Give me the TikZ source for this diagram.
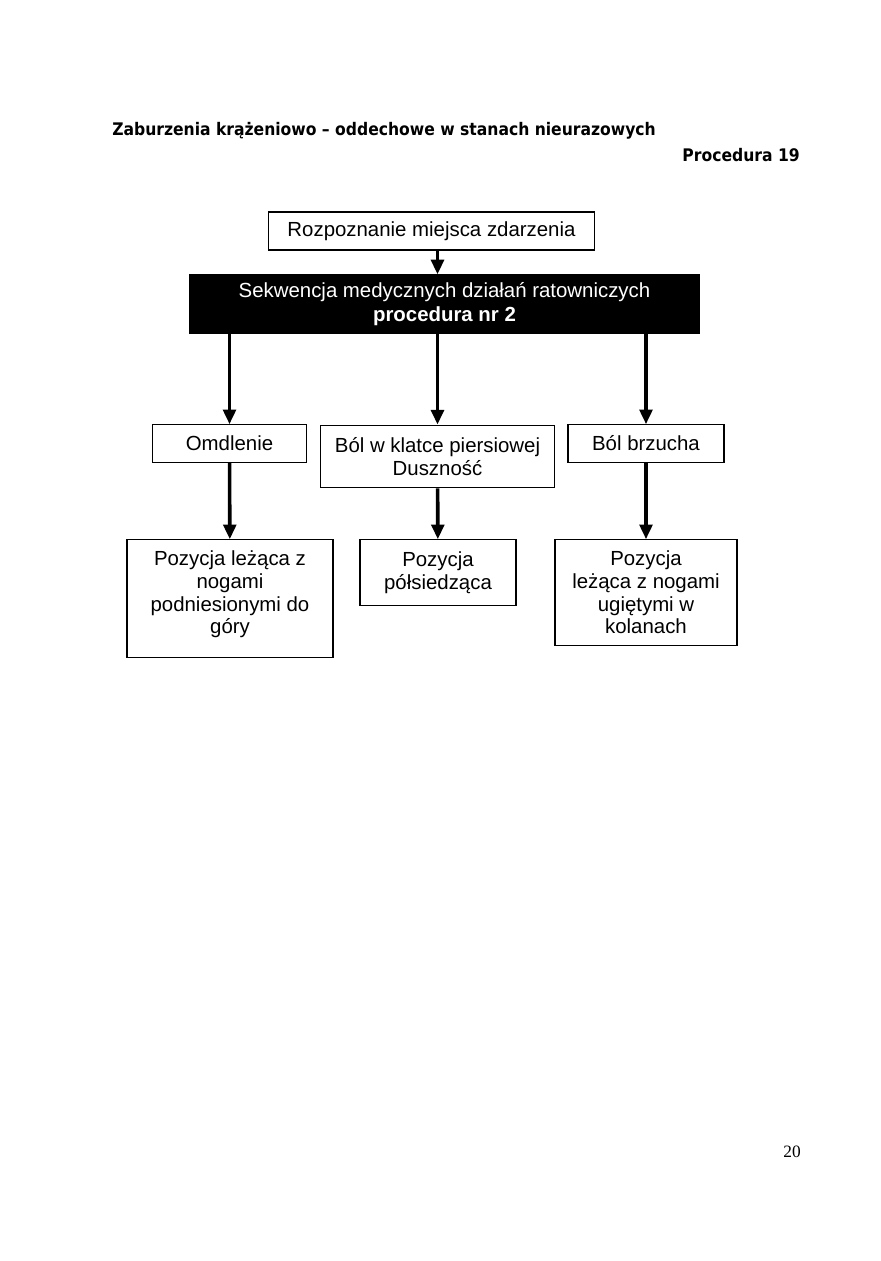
\documentclass[tikz,border=0pt]{standalone}
\usepackage{fontspec}
\setmainfont{Liberation Sans}
\newfontfamily\headfont{DejaVu Sans Condensed}
\newfontfamily\pagefont{Liberation Serif}
\usetikzlibrary{arrows.meta,positioning}

\begin{document}
\begin{tikzpicture}[x=0.75pt,y=-0.75pt,
  box/.style={draw,line width=0.9pt,fill=white,inner sep=0pt,align=center,font=\fontsize{15.3}{17}\selectfont},
  blackbox/.style={box,fill=black,text=white},
  heading/.style={inner sep=0pt,font=\headfont\bfseries\fontsize{13}{15}\selectfont},
  arrow/.style={-{Triangle[length=11pt,width=9.5pt]},line width=2.7pt}]
  \useasboundingbox (0,0) rectangle (881,1261);
  % naglowek strony
  \node[heading,anchor=west] (title) at (112,131) {Zaburzenia krążeniowo – oddechowe w stanach nieurazowych};
  \node[heading,anchor=east] (procnr) at (800,155) {Procedura 19};
  % schemat
  \node[box,minimum width=245pt,minimum height=28.5pt] (rozp) at (431.5,231) {Rozpoznanie miejsca zdarzenia};
  \node[blackbox,minimum width=382pt,minimum height=43.5pt] (sekw) at (444.5,304) {Sekwencja medycznych działań ratowniczych\\[0.5pt]\textbf{procedura nr 2}};
  \node[box,minimum width=116pt,minimum height=28pt] (omdl) at (229.5,443.5) {Omdlenie};
  \node[box,minimum width=176pt,minimum height=47pt] (klatka) at (437.5,456.5) {Ból w klatce piersiowej\\Duszność};
  \node[box,minimum width=117pt,minimum height=28pt] (brzuch) at (646,443.5) {Ból brzucha};
  \node[box,minimum width=154.5pt,minimum height=88pt] (lez) at (230,598.5) {Pozycja leżąca z\\nogami\\podniesionymi do\\góry\\[-8pt]\mbox{}};
  \node[box,minimum width=117pt,minimum height=49pt] (polsied) at (438,572.5) {Pozycja\\półsiedząca};
  \node[box,minimum width=136.5pt,minimum height=79pt] (ugiete) at (646,592.5) {Pozycja\\leżąca z nogami\\ugiętymi w\\kolanach};
  \draw[arrow] (rozp.south -| klatka) -- (sekw.north -| klatka);
  \draw[arrow] (sekw.south -| omdl) -- (omdl);
  \draw[arrow] (sekw.south -| klatka) -- (klatka);
  \draw[arrow] (sekw.south -| brzuch) -- (brzuch);
  \draw[arrow] (omdl) -- (lez);
  \draw[arrow] (klatka) -- (polsied);
  \draw[arrow] (brzuch) -- (ugiete);
  % numer strony
  \node[inner sep=0pt,font=\pagefont\fontsize{13}{15}\selectfont] (strona) at (792,1152) {20};
\end{tikzpicture}
\end{document}
